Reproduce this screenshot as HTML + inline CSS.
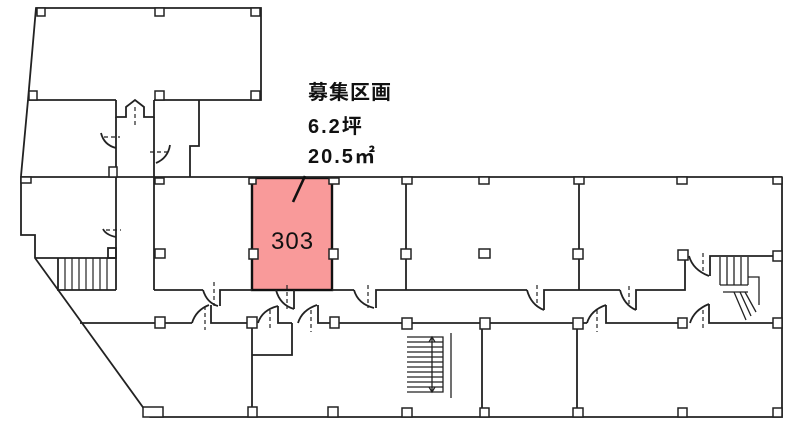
<!DOCTYPE html>
<html><head><meta charset="utf-8"><style>
html,body{margin:0;padding:0;background:#fff;width:800px;height:441px;overflow:hidden}
svg{display:block}
text{font-family:"Liberation Sans","Noto Sans CJK JP",sans-serif;fill:#111}
</style></head><body>
<svg width="800" height="441" viewBox="0 0 800 441" xmlns="http://www.w3.org/2000/svg">
<g fill="none" stroke="#222" stroke-width="1.8">
<rect x="252" y="178" width="80" height="112" fill="#f99a9a" stroke="#111" stroke-width="2.4"/>
<polyline points="28,100 36,8 261,8 261,100 154,100"/>
<polyline points="28,100 116,100"/>
<line x1="28" y1="100" x2="21" y2="176"/>
<polyline points="116,100 116,117 126,117 126,107 135,100 144,107 144,117 154,117 154,100"/>
<line x1="135" y1="107" x2="135" y2="127" stroke-dasharray="4,3" stroke-width="1.2"/>
<line x1="116" y1="117" x2="116" y2="290"/>
<line x1="154" y1="117" x2="154" y2="290"/>
<polyline points="199,100 199,146 190,146 190,177"/>
<path d="M101,133 Q104,145 116,148"/><line x1="104" y1="137" x2="120" y2="137" stroke-dasharray="4,3" stroke-width="1.2"/>
<path d="M170,145 Q168,158 156,163"/><line x1="150" y1="152" x2="168" y2="152" stroke-dasharray="4,3" stroke-width="1.2"/>
<path d="M103,229 Q106,235 116,237"/><line x1="106" y1="230" x2="121" y2="230" stroke-dasharray="4,3" stroke-width="1.2"/>
<line x1="21" y1="177" x2="782" y2="177"/>
<polyline points="21,176 21,235 35,235 35,258 150,417 782,417 782,177"/>
<polyline points="35,258 116,258"/>
<polyline points="58,258 58,290 116,290"/>
<g stroke-width="1.2">
<line x1="65" y1="258" x2="65" y2="290"/><line x1="72" y1="258" x2="72" y2="290"/><line x1="79" y1="258" x2="79" y2="290"/><line x1="86" y1="258" x2="86" y2="290"/><line x1="93" y1="258" x2="93" y2="290"/><line x1="100" y1="258" x2="100" y2="290"/><line x1="107" y1="258" x2="107" y2="290"/>
</g>
<rect x="108" y="248" width="8" height="10"/>
<polyline points="154,290 203,290"/>
<path d="M203,290 Q207,303 218,306"/>
<polyline points="220,306 220,290 252,290"/>
<line x1="214" y1="282" x2="214" y2="306" stroke-dasharray="4,3" stroke-width="1.2"/>
<path d="M276,290 Q280,305 294,309"/>
<polyline points="294,309 294,290"/>
<line x1="287" y1="285" x2="287" y2="309" stroke-dasharray="4,3" stroke-width="1.2"/>
<polyline points="332,290 354,290"/>
<path d="M354,290 Q358,304 374,308"/>
<polyline points="376,308 376,290 527,290"/>
<line x1="368" y1="285" x2="368" y2="308" stroke-dasharray="4,3" stroke-width="1.2"/>
<path d="M527,290 Q531,305 544,310"/>
<polyline points="544,310 544,290 620,290"/>
<line x1="537" y1="285" x2="537" y2="307" stroke-dasharray="4,3" stroke-width="1.2"/>
<path d="M620,290 Q624,305 636,310"/>
<polyline points="636,310 636,290 685,290 685,254"/>
<line x1="629" y1="286" x2="629" y2="307" stroke-dasharray="4,3" stroke-width="1.2"/>
<line x1="80" y1="323" x2="192" y2="323"/>
<path d="M192,323 Q196,310 209,305"/>
<polyline points="211,305 211,323 252,323"/>
<line x1="205" y1="306" x2="205" y2="330" stroke-dasharray="4,3" stroke-width="1.2"/>
<path d="M258,323 Q262,310 278,306"/>
<polyline points="278,306 278,323 292,323"/>
<line x1="270" y1="310" x2="270" y2="330" stroke-dasharray="4,3" stroke-width="1.2"/>
<path d="M298,323 Q302,310 317,305"/>
<polyline points="318,305 318,323 587,323"/>
<line x1="311" y1="310" x2="311" y2="332" stroke-dasharray="4,3" stroke-width="1.2"/>
<path d="M587,323 Q591,310 606,305"/>
<polyline points="606,305 606,323 682,323"/>
<line x1="597" y1="310" x2="597" y2="332" stroke-dasharray="4,3" stroke-width="1.2"/>
<path d="M690,323 Q694,310 709,304"/>
<polyline points="709,304 709,323 782,323"/>
<line x1="703" y1="310" x2="703" y2="330" stroke-dasharray="4,3" stroke-width="1.2"/>
<path d="M689,256 Q693,270 709,276"/>
<line x1="703" y1="253" x2="703" y2="272" stroke-dasharray="4,3" stroke-width="1.2"/>
<polyline points="710,276 710,256 778,256"/>
<g stroke-width="1.3">
<line x1="720" y1="257" x2="720" y2="285"/><line x1="727" y1="257" x2="727" y2="285"/><line x1="734" y1="257" x2="734" y2="285"/><line x1="741" y1="257" x2="741" y2="285"/><line x1="748" y1="257" x2="748" y2="285"/>
<line x1="720" y1="285" x2="748" y2="285"/>
<polyline points="748,277 759,277 759,305"/>
<line x1="723" y1="292" x2="748" y2="292"/>
<line x1="734" y1="292" x2="746" y2="320"/><line x1="740" y1="292" x2="751" y2="316"/><line x1="745" y1="292" x2="756" y2="312"/>
</g>
<line x1="406" y1="177" x2="406" y2="290"/>
<line x1="579" y1="177" x2="579" y2="290"/>
<line x1="252" y1="323" x2="252" y2="417"/>
<polyline points="252,355 292,355 292,323"/>
<line x1="482" y1="323" x2="482" y2="417"/>
<line x1="577" y1="323" x2="577" y2="417"/>
<g stroke-width="1.3">
<polyline points="407,337 443,337 443,392 407,392"/>
<line x1="407" y1="342" x2="443" y2="342"/><line x1="407" y1="347" x2="443" y2="347"/><line x1="407" y1="352" x2="443" y2="352"/><line x1="407" y1="357" x2="443" y2="357"/><line x1="407" y1="362" x2="443" y2="362"/><line x1="407" y1="367" x2="443" y2="367"/><line x1="407" y1="372" x2="443" y2="372"/><line x1="407" y1="377" x2="443" y2="377"/><line x1="407" y1="382" x2="443" y2="382"/><line x1="407" y1="387" x2="443" y2="387"/>
<line x1="432" y1="337" x2="432" y2="392"/>
<polyline points="429,342 432,337 435,342"/><polyline points="429,387 432,392 435,387"/>
<line x1="451" y1="333" x2="451" y2="398"/>
</g>
<line x1="305" y1="176" x2="293" y2="202" stroke="#111" stroke-width="2.6"/>
</g>
<g fill="#fff" stroke="#222" stroke-width="1.5">
<rect x="37" y="8" width="8" height="8"/><rect x="155" y="8" width="9" height="8"/><rect x="251" y="8" width="9" height="8"/>
<rect x="29" y="91" width="8" height="9"/><rect x="155" y="91" width="9" height="9"/><rect x="251" y="91" width="9" height="9"/>
<rect x="21" y="177" width="10" height="6"/><rect x="109" y="167" width="8" height="10"/><rect x="155" y="178" width="9" height="6"/>
<rect x="249" y="178" width="7" height="6"/><rect x="329" y="178" width="10" height="6"/>
<rect x="402" y="177" width="10" height="7"/><rect x="479" y="177" width="10" height="7"/><rect x="574" y="177" width="10" height="7"/><rect x="677" y="177" width="10" height="7"/><rect x="773" y="177" width="9" height="7"/>
<rect x="155" y="249" width="10" height="9"/><rect x="249" y="249" width="9" height="10"/><rect x="329" y="249" width="9" height="10"/>
<rect x="401" y="249" width="10" height="10"/><rect x="479" y="249" width="11" height="9"/><rect x="573" y="249" width="10" height="10"/><rect x="678" y="250" width="10" height="10"/><rect x="773" y="251" width="9" height="10"/>
<rect x="155" y="317" width="10" height="11"/><rect x="247" y="317" width="10" height="11"/><rect x="330" y="317" width="9" height="11"/>
<rect x="402" y="318" width="10" height="11"/><rect x="480" y="318" width="10" height="11"/><rect x="573" y="318" width="10" height="11"/><rect x="678" y="318" width="9" height="10"/><rect x="773" y="318" width="9" height="10"/>
<rect x="143" y="407" width="20" height="10"/><rect x="248" y="407" width="9" height="10"/><rect x="328" y="407" width="10" height="10"/>
<rect x="402" y="408" width="10" height="9"/><rect x="480" y="408" width="9" height="9"/><rect x="573" y="408" width="10" height="9"/><rect x="678" y="408" width="9" height="9"/><rect x="773" y="408" width="9" height="9"/>
</g>
<text x="308" y="99" font-size="20" font-weight="bold" letter-spacing="1">募集区画</text>
<text x="308" y="133" font-size="20" font-weight="bold" letter-spacing="2">6.2坪</text>
<text x="308" y="163" font-size="20" font-weight="bold" letter-spacing="2">20.5㎡</text>
<text x="271" y="249" font-size="24" letter-spacing="1">303</text>
</svg>
</body></html>
